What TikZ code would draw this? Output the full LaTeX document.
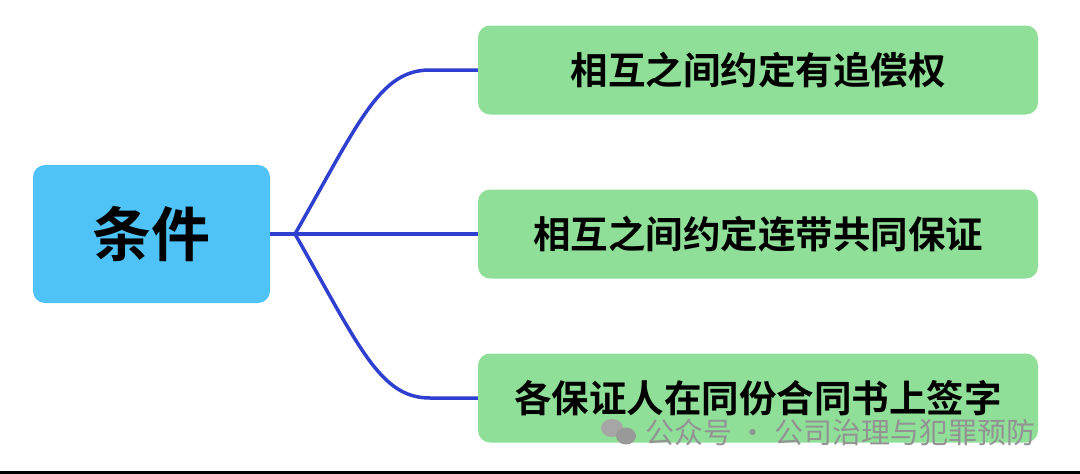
\documentclass[tikz,border=0pt]{standalone}
\usepackage{fontspec}
\newfontfamily\cjk{Noto Sans CJK SC}[BoldFont={Noto Sans CJK SC Bold}]
\begin{document}
\begin{tikzpicture}[x=1pt,y=-1pt,
  leaf/.style={fill=leafgreen,rounded corners=12pt,minimum width=560pt,minimum height=89pt,font=\cjk\bfseries\fontsize{37.5}{42}\selectfont,text=black,inner sep=0pt},
  conn/.style={draw=linkblue,line width=3.5pt}]
\definecolor{leafgreen}{HTML}{8FDF98}
\definecolor{rootblue}{HTML}{4FC3F7}
\definecolor{linkblue}{HTML}{2F3FD0}
\useasboundingbox (0,0) rectangle (1080,474);
\fill[black] (0,471) rectangle (1080,474);
\node[fill=rootblue,rounded corners=12pt,minimum width=237pt,minimum height=138pt,inner sep=0pt,font=\cjk\bfseries\fontsize{59}{64}\selectfont] (root) at (151.5,234) {条件};
\node[leaf] (a) at (758,70) {相互之间约定有追偿权};
\node[leaf] (b) at (758,234) {相互之间约定连带共同保证};
\node[leaf] (c) at (758,398) {各保证人在同份合同书上签字};
\coordinate (hub) at (295,234);
\draw[conn] (root.east) -- (hub);
\draw[conn] (hub) -- (b.west);
\draw[conn] (hub) .. controls (360,120) and (380,70) .. (430,70) -- (a.west);
\draw[conn] (hub) .. controls (360,348) and (380,398) .. (430,398) -- (c.west);
\node[font=\cjk\fontsize{29}{32}\selectfont,text=gray!85,anchor=west,inner sep=0pt] (wm) at (645,432) {公众号 · 公司治理与犯罪预防};
\fill[gray!70] (612,428) ellipse (11pt and 9pt);
\fill[gray!80] (626,436) ellipse (10pt and 8.5pt);
\end{tikzpicture}
\end{document}
